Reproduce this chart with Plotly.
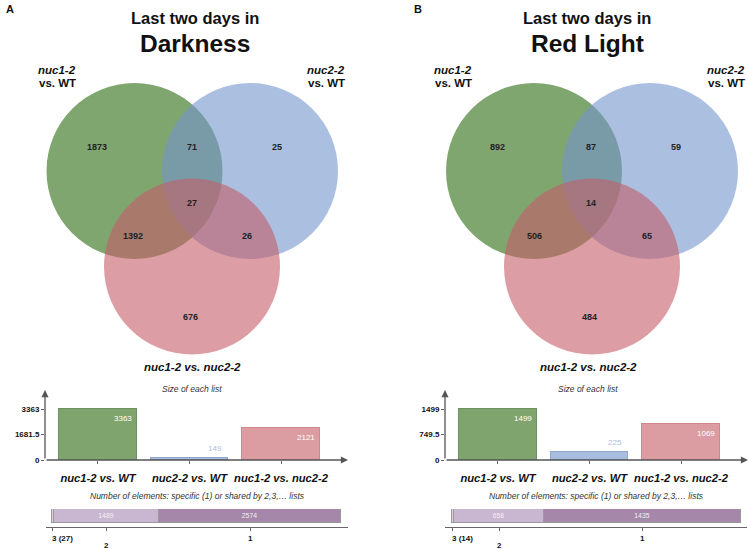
import plotly.graph_objects as go

W, H = 748, 549

# ---------------------------------------------------------------------------
# Data
# ---------------------------------------------------------------------------
panel_letters = ["A", "B"]
conditions = ["Darkness", "Red Light"]
list_names = ["nuc1-2 vs. WT", "nuc2-2 vs. WT", "nuc1-2 vs. nuc2-2"]

# Venn regions: only 1, 1&2, only 2, 1&2&3, 1&3, 2&3, only 3
venn_dark = [1873, 71, 25, 27, 1392, 26, 676]
venn_red = [892, 87, 59, 14, 506, 65, 484]

list_size_dark = [3363, 149, 2121]
list_size_red = [1499, 225, 1069]

shared_levels = ["3", "2", "1"]
shared_dark = [27, 1489, 2574]
shared_red = [14, 658, 1435]

# ---------------------------------------------------------------------------
# Layout helpers (pixel positions of the original figure)
# ---------------------------------------------------------------------------
GREEN, BLUE, RED = "#7fa46d", "#a9bde0", "#db9ca2"
BAR_LINES = ["#6d9160", "#8fa6cf", "#cf8790"]
VENN_FILLS = ["rgb(44,106,16)", "rgb(115,148,204)", "rgb(196,94,104)"]
SHARED_FILLS = ["#ddd2e2", "#c9b6d0", "#a587aa"]
FONT = "Liberation Sans, Arial, sans-serif"
R = 88

panels = [
    {
        "venn": venn_dark, "sizes": list_size_dark, "shared": shared_dark,
        "circles": [(134.5, 171), (250, 171), (192, 266.5)],
        "regions": [(97, 147), (192, 147), (277, 147), (192, 203),
                    (133, 236), (247, 236), (190, 317)],
        "title_x": 195, "letter_x": 4, "bottom_label_x": 192,
        "left_label_x": 57, "right_label": (326, "center"),
        "size_dom": (45, 347), "shared_dom": (46, 348), "shared_px": (52, 341),
        "size_title_x": 192, "shared_title_x": 197,
    },
    {
        "venn": venn_red, "sizes": list_size_red, "shared": shared_red,
        "circles": [(534, 171), (650, 171), (592, 266.5)],
        "regions": [(497, 147), (591, 147), (676, 147), (591, 203),
                    (534, 236), (647, 236), (589, 317)],
        "title_x": 587, "letter_x": 412, "bottom_label_x": 588,
        "left_label_x": 453, "right_label": (747, "right"),
        "size_dom": (445, 747), "shared_dom": (445, 747), "shared_px": (452, 741),
        "size_title_x": 588, "shared_title_x": 596,
    },
]


def fx(p):
    return p / W


def fy(p):
    return 1 - p / H


fig = go.Figure()
annotations = []
shapes = []


def text(x, y, s, size, xanchor="center", color="#111", xref="x", yref="y", **kw):
    annotations.append(dict(
        x=x, y=y, xref=xref, yref=yref, text=s, showarrow=False,
        xanchor=xanchor, yanchor=kw.pop("yanchor", "middle"),
        font=dict(family=FONT, size=size, color=color), **kw,
    ))


def arrow(x0, y0, x1, y1):
    annotations.append(dict(
        x=x1, y=y1, ax=x0, ay=y0, xref="x", yref="y", axref="x", ayref="y",
        text="", showarrow=True, arrowhead=2, arrowsize=1.1, arrowwidth=1.3,
        arrowcolor="#555",
    ))


# Main pixel-space axis (for Venn circles and free text)
fig.update_layout(
    xaxis=dict(domain=[0, 1], range=[0, W], visible=False, automargin=False),
    yaxis=dict(domain=[0, 1], range=[H, 0], visible=False, automargin=False),
)

for k, p in enumerate(panels):
    # titles
    text(p["letter_x"], 9, "<b>%s</b>" % panel_letters[k], 11, xanchor="left")
    text(p["title_x"], 18, "<b>Last two days in</b>", 16.5)
    text(p["title_x"], 43, "<b>%s</b>" % conditions[k], 24.5)

    # venn circles
    for (cx, cy), col in zip(p["circles"], VENN_FILLS):
        shapes.append(dict(
            type="circle", xref="x", yref="y", x0=cx - R, x1=cx + R,
            y0=cy - R, y1=cy + R, fillcolor=col, opacity=0.6, line_width=0,
            layer="below",
        ))
    for (x, y), v in zip(p["regions"], p["venn"]):
        text(x, y, "<b>%d</b>" % v, 9, color="#222")

    # set labels
    text(p["left_label_x"], 70, "<b><i>nuc1-2</i></b>", 11.5)
    text(p["left_label_x"], 83, "<b>vs. WT</b>", 11.5)
    rx, ranchor = p["right_label"]
    text(rx, 70, "<b><i>nuc2-2</i></b>", 11.5, xanchor=ranchor)
    text(rx, 83, "<b>vs. WT</b>", 11.5, xanchor=ranchor)
    text(p["bottom_label_x"], 367, "<b><i>nuc1-2 vs. nuc2-2</i></b>", 11.5)

    # --- size of each list ---
    text(p["size_title_x"], 389, "<i>Size of each list</i>", 8.5, color="#333")
    xa, ya = "x%d" % (2 + k), "y%d" % (2 + k)
    sizes = p["sizes"]
    top = max(sizes)
    d0, d1 = p["size_dom"]
    fig.add_trace(go.Bar(
        x=[0, 1, 2], y=sizes, width=0.85, xaxis=xa, yaxis=ya,
        marker=dict(color=[GREEN, BLUE, RED], line=dict(color=BAR_LINES, width=1)),
        hoverinfo="skip", showlegend=False,
    ))
    fig.update_layout({
        "xaxis%d" % (2 + k): dict(
            domain=[fx(d0), fx(d1)], anchor=ya, range=[-0.579, 2.721],
            tickvals=[0, 1, 2], ticktext=["<b><i>%s</i></b>" % n for n in list_names],
            ticks="outside", ticklen=3, tickcolor="#666", ticklabelstandoff=5,
            tickfont=dict(family=FONT, size=11.2, color="#111"),
            showgrid=False, zeroline=False, showline=False, automargin=False,
        ),
        "yaxis%d" % (2 + k): dict(
            domain=[fy(460), fy(392)], anchor=xa, range=[0, top * 68 / 51],
            tickvals=[0, top / 2, top],
            ticktext=["<b>%g</b>" % v for v in [0, top / 2, top]],
            ticks="outside", ticklen=3, tickcolor="#666",
            tickfont=dict(family=FONT, size=8, color="#111"),
            showgrid=False, zeroline=False, showline=False, automargin=False,
        ),
    })
    arrow(d0, 460, d0, 390)
    arrow(d0, 460, d1 + 1, 460)
    for i, v in enumerate(sizes):
        if v / top < 0.2:
            text(i + 0.425, v, str(v), 8, xanchor="right", color=BLUE,
                 xref=xa, yref=ya, yanchor="bottom", xshift=-4, yshift=3)
        else:
            text(i + 0.425, v, str(v), 8, xanchor="right", color="white",
                 xref=xa, yref=ya, yanchor="top", xshift=-3, yshift=-3)

    # --- shared elements ---
    text(p["shared_title_x"], 496,
         "<i>Number of elements: specific (1) or shared by 2,3,… lists</i>",
         8.5, color="#333")
    xs, ys = "x%d" % (4 + k), "y%d" % (4 + k)
    shared = p["shared"]
    total = sum(shared)
    s0, s1 = p["shared_dom"]
    b0, b1 = p["shared_px"]
    upp = total / (b1 - b0)
    centres = []
    base = 0
    for lvl, v, col in zip(shared_levels, shared, SHARED_FILLS):
        fig.add_trace(go.Bar(
            x=[v], y=[0], orientation="h", width=1, xaxis=xs, yaxis=ys,
            marker=dict(color=col, line=dict(color="#999", width=1)),
            text=[str(v)] if lvl != "3" else None, textposition="inside",
            insidetextanchor="middle",
            textfont=dict(family=FONT, size=8.5, color="#f4f0f5"),
            hoverinfo="skip", showlegend=False,
        ))
        centres.append(base + v / 2)
        base += v
    fig.update_layout({
        "xaxis%d" % (4 + k): dict(
            domain=[fx(s0), fx(s1)], anchor="free", position=fy(527),
            range=[-(b0 - s0) * upp, total + (s1 - b1) * upp],
            tickvals=centres, showticklabels=False, ticks="outside",
            ticklen=3, tickcolor="#666", showline=True, linecolor="#666",
            linewidth=1.2, showgrid=False, zeroline=False, automargin=False,
        ),
        "yaxis%d" % (4 + k): dict(
            domain=[fy(523), fy(509)], anchor=xs, range=[-0.5, 0.5],
            visible=False, automargin=False,
        ),
    })
    for lvl, v, c in zip(shared_levels, shared, centres):
        if lvl == "3":
            text(c, 538, "<b>%s (%d)</b>" % (lvl, v), 8, xanchor="left",
                 xref=xs, xshift=-3)
        elif lvl == "2":
            text(c, 545, "<b>%s</b>" % lvl, 8, xref=xs)
        else:
            text(c, 538, "<b>%s</b>" % lvl, 8, xref=xs)

fig.update_layout(
    width=W, height=H,
    margin=dict(l=0, r=0, t=0, b=0, pad=0, autoexpand=False),
    paper_bgcolor="white", plot_bgcolor="rgba(0,0,0,0)",
    barmode="stack", bargap=0, showlegend=False,
    annotations=annotations, shapes=shapes,
    font=dict(family=FONT),
)

# the page's default body margin would shift the figure by 8 px
fig.write_html(
    "out.html",
    config={"displayModeBar": False},
    post_script="document.body.style.margin='0';",
)
